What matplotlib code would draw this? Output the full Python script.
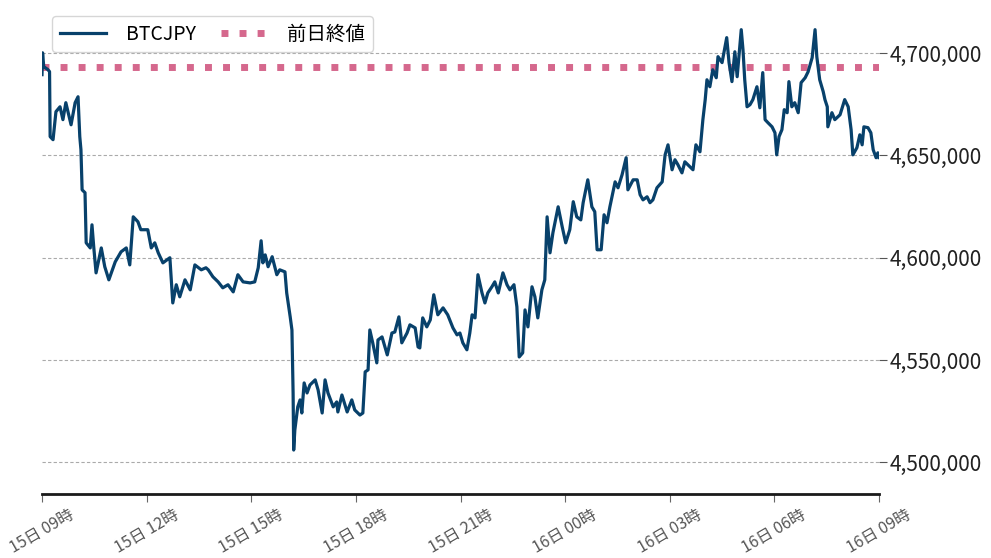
import numpy as np
import matplotlib
matplotlib.use("Agg")
import matplotlib.pyplot as plt
from matplotlib.ticker import FuncFormatter

plt.rcParams['font.family'] = ['Noto Sans CJK JP', 'DejaVu Sans']

# minutes after 15日 09:00 and BTCJPY price
minutes = [0, 1, 3, 10, 13, 14, 19, 24, 31, 36, 41, 50, 57, 62, 65, 67, 69, 74, 76, 83,
           86, 89, 93, 102, 108, 115, 126, 136, 145, 151, 157, 165, 170, 182, 188, 194, 200, 208, 220, 225,
           231, 237, 246, 255, 263, 274, 282, 286, 294, 303, 311, 320, 329, 337, 346, 358, 366, 372, 377, 380,
           384, 389, 396, 404, 409, 418, 421, 427, 430, 432, 433, 435, 440, 444, 447, 451, 456, 461, 470, 475,
           482, 487, 492, 501, 507, 509, 516, 525, 533, 538, 547, 552, 556, 561, 564, 569, 576, 578, 585, 594,
           602, 607, 614, 619, 628, 633, 642, 647, 650, 655, 662, 668, 674, 681, 690, 698, 707, 714, 719, 724,
           731, 736, 740, 745, 750, 757, 762, 767, 774, 779, 785, 793, 800, 805, 812, 817, 821, 827, 831, 836,
           843, 848, 853, 860, 865, 869, 874, 879, 888, 895, 901, 908, 914, 920, 927, 931, 939, 946, 951, 955,
           962, 967, 972, 977, 983, 986, 991, 998, 1005, 1008, 1017, 1024, 1029, 1034, 1041, 1046, 1051, 1058, 1067, 1072,
           1077, 1084, 1089, 1094, 1101, 1106, 1111, 1120, 1125, 1132, 1137, 1141, 1144, 1149, 1154, 1160, 1163, 1170, 1178, 1182,
           1187, 1192, 1196, 1203, 1206, 1209, 1213, 1218, 1223, 1230, 1235, 1240, 1244, 1249, 1256, 1261, 1264, 1268, 1273, 1277,
           1282, 1285, 1290, 1295, 1301, 1306, 1313, 1318, 1325, 1330, 1333, 1338, 1344, 1347, 1351, 1352, 1359, 1364, 1373, 1381,
           1387, 1392, 1395, 1402, 1407, 1411, 1414, 1421, 1426, 1430, 1435, 1438, 1440]
prices = [4689500, 4700200, 4693400, 4692000, 4691000, 4659200, 4657700, 4671400, 4673800, 4667500,
          4675800, 4665000, 4675800, 4678700, 4659200, 4652800, 4633200, 4631800, 4607300, 4604800,
          4616100, 4605300, 4592600, 4604800, 4595600, 4589200, 4598000, 4602900, 4604800, 4596500,
          4620000, 4617600, 4613700, 4613700, 4604800, 4607300, 4602400, 4597500, 4600000, 4577900,
          4586800, 4580900, 4589200, 4584300, 4596500, 4594100, 4595100, 4594100, 4590700, 4588200,
          4585300, 4586800, 4583300, 4591700, 4588200, 4587700, 4588200, 4595100, 4608300, 4597500,
          4601400, 4595600, 4600500, 4591700, 4594100, 4593100, 4582800, 4571100, 4564700, 4533900,
          4506000, 4515800, 4527100, 4530500, 4524100, 4538800, 4533900, 4537800, 4540300, 4535400,
          4524100, 4540300, 4533900, 4527100, 4529500, 4524600, 4532900, 4524600, 4530500, 4525600,
          4523100, 4524100, 4544200, 4545200, 4564700, 4558400, 4548600, 4559800, 4561300, 4552500,
          4563200, 4563700, 4571100, 4558400, 4563200, 4567200, 4565700, 4556400, 4555900, 4570600,
          4566200, 4569600, 4581900, 4572100, 4575500, 4572100, 4565700, 4562300, 4563200, 4558400,
          4555000, 4563200, 4572100, 4570600, 4591700, 4582800, 4577900, 4582800, 4585800, 4588200,
          4582800, 4592600, 4586800, 4584300, 4586800, 4576000, 4551500, 4553500, 4574500, 4566200,
          4585800, 4580900, 4570600, 4584300, 4589200, 4620000, 4602400, 4612200, 4624900, 4615100,
          4607300, 4613700, 4627400, 4620000, 4618500, 4626900, 4638100, 4624900, 4622500, 4603900,
          4603900, 4621000, 4617100, 4624900, 4633200, 4637100, 4634200, 4640600, 4648900, 4633200,
          4638100, 4638100, 4630800, 4628300, 4629800, 4626900, 4628300, 4634200, 4637100, 4650300,
          4655200, 4643000, 4647900, 4645500, 4641500, 4646900, 4645500, 4643000, 4655200, 4651800,
          4667500, 4677300, 4687000, 4683600, 4691900, 4688000, 4698300, 4695400, 4707600, 4695400,
          4686100, 4700700, 4688500, 4711500, 4701700, 4687000, 4673800, 4674800, 4677300, 4683600,
          4673300, 4690500, 4667500, 4666000, 4664000, 4661100, 4650300, 4659200, 4662600, 4672400,
          4670900, 4686100, 4673800, 4675800, 4670900, 4685600, 4688000, 4690900, 4697800, 4711500,
          4698300, 4687000, 4681200, 4677300, 4673800, 4664000, 4670900, 4667500, 4669900, 4677300,
          4673800, 4662600, 4650300, 4653800, 4660100, 4655200, 4664000, 4663600, 4661100, 4652800,
          4648900, 4651300, 4649000]

prev_close = 4693300
tick_minutes = [0, 180, 360, 540, 720, 900, 1080, 1260, 1440]
tick_labels = ['15日 09時', '15日 12時', '15日 15時', '15日 18時', '15日 21時',
               '16日 00時', '16日 03時', '16日 06時', '16日 09時']
y_ticks = [4500000, 4550000, 4600000, 4650000, 4700000]

fig = plt.figure(figsize=(9.91, 5.58), dpi=100)
ax = fig.add_axes([42 / 991, 64 / 558, 837 / 991, 494 / 558])

ax.plot(minutes, prices, color='#08416b', lw=2.3, label='BTCJPY', zorder=3)
ax.axhline(prev_close, color='#d5688d', lw=5, linestyle=(0, (1, 1.6)),
           label='前日終値', zorder=2)

ax.set_xlim(0, 1440)
ax.set_ylim(4484500, 4726000)

for s in ['top', 'left', 'right']:
    ax.spines[s].set_visible(False)
ax.spines['bottom'].set_linewidth(2)
ax.spines['bottom'].set_color('#1a1a1a')

ax.set_xticks(tick_minutes)
ax.set_xticklabels(tick_labels, rotation=30, ha='center',
                   fontsize=11.5, color='#555555')
ax.tick_params(axis='x', length=6, color='#666666', pad=3)

ax.yaxis.tick_right()
ax.set_yticks(y_ticks)
ax.yaxis.set_major_formatter(FuncFormatter(lambda v, p: f'{int(v):,}'))
ax.tick_params(axis='y', length=6, color='#555555', labelsize=15, labelcolor='#222222', pad=2)
ax.grid(axis='y', color='#aaaaaa', lw=0.8, linestyle=(0, (3, 2)))

leg = ax.legend(loc='upper left', ncol=2, fontsize=14, frameon=True,
                bbox_to_anchor=(0.012, 0.968), borderaxespad=0,
                columnspacing=1.3, handlelength=2.4,
                borderpad=0.4, handletextpad=1.0)
leg.get_frame().set_edgecolor('#cccccc')
leg.get_frame().set_linewidth(1)

fig.savefig('out.png', dpi=100)
